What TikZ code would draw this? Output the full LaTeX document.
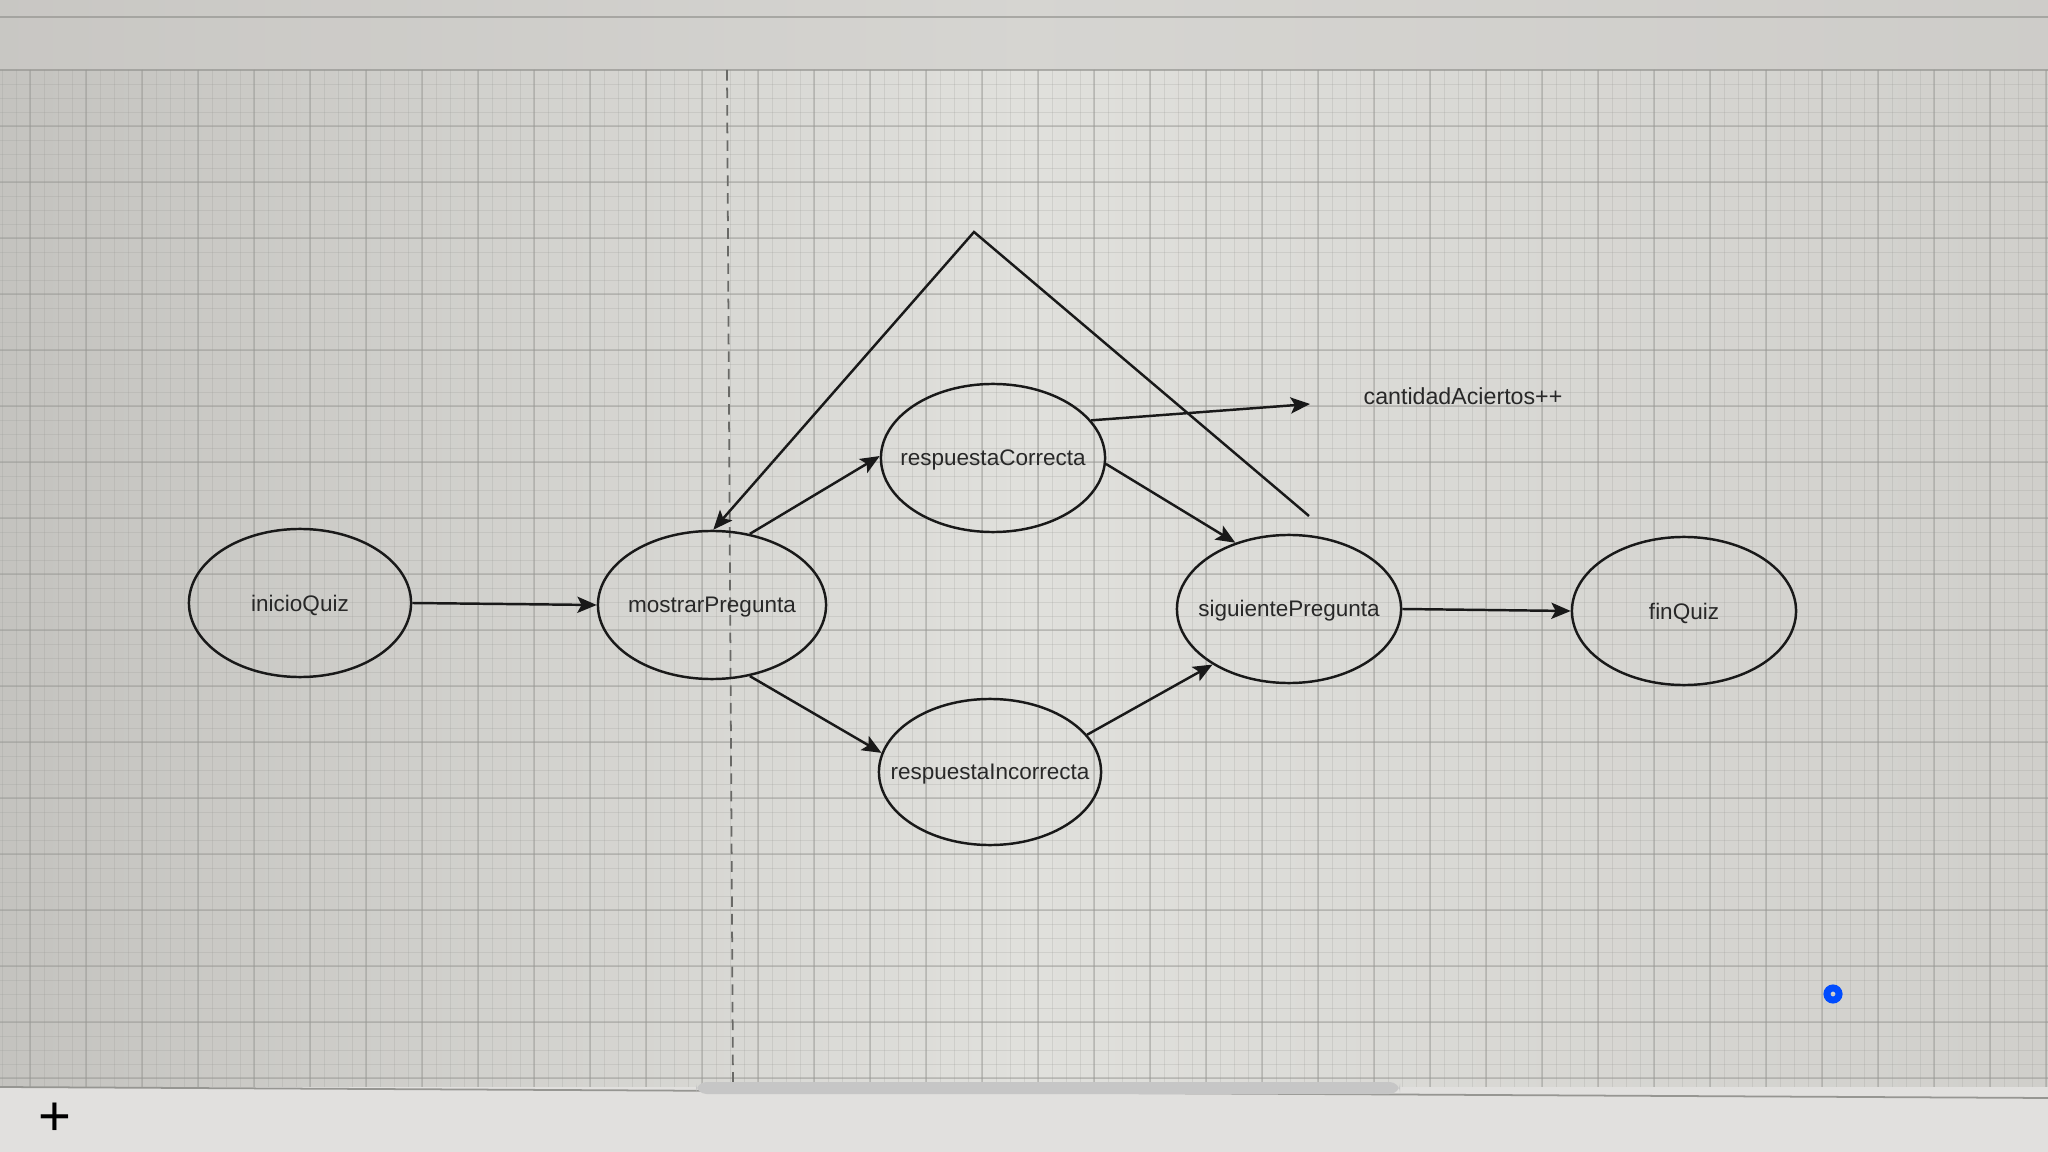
\documentclass[tikz,border=0pt]{standalone}
\usepackage{fontspec}
\setmainfont{Liberation Sans}
\usetikzlibrary{shapes.geometric,arrows.meta}
\definecolor{bgL}{RGB}{196,195,191}
\definecolor{bgM}{RGB}{224,224,220}
\definecolor{bgR}{RGB}{208,207,203}
\definecolor{barc}{RGB}{205,203,200}
\definecolor{gridc}{RGB}{150,150,146}
\definecolor{linec}{RGB}{25,25,25}
\definecolor{textc}{RGB}{40,40,40}
\begin{document}
\begin{tikzpicture}[x=0.01cm,y=-0.01cm,
  state/.style={ellipse,draw=linec,line width=0.7pt,inner sep=0pt},
  lbl/.style={text=textc,font=\fontsize{6.4}{7.6}\selectfont,yshift=-0.6pt},
  arr/.style={draw=linec,line width=0.7pt,-{Stealth[length=5.5pt,width=4.6pt,inset=1.2pt]}},
  gridminor/.style={draw=gridc,line width=0.15pt,opacity=0.22},
  gridmajor/.style={draw=gridc,line width=0.3pt,opacity=0.4}]
% background
\useasboundingbox (0,0) rectangle (2048,1152);
\shade[left color=bgL,right color=bgR,middle color=bgM] (0,0) rectangle (2048,1152);
% top bar
\fill[barc,opacity=0.5] (0,0) rectangle (2048,70);
\draw[gridc,line width=0.4pt,opacity=0.7] (0,17) -- (2048,17);
\draw[gridc,line width=0.4pt,opacity=0.7] (0,70) -- (2048,70);
% grid
\foreach \gx in {2,16,...,2048} \draw[gridminor] (\gx,70) -- (\gx,1087);
\foreach \gy in {84,98,...,1087} \draw[gridminor] (0,\gy) -- (2048,\gy);
\foreach \gx in {30,86,...,2048} \draw[gridmajor] (\gx,70) -- (\gx,1087);
\foreach \gy in {126,182,...,1087} \draw[gridmajor] (0,\gy) -- (2048,\gy);
% page break line
\draw[gridc!70!black,line width=0.5pt,dash pattern=on 3pt off 2pt] (727,70) -- (733,1087);
% bottom bar
\fill[barc!60!white] (0,1087) rectangle (2048,1152);
\draw[gridc,line width=0.5pt] (0,1087) -- (2048,1098);
\fill[gray!45,rounded corners=3pt] (696,1082) rectangle (1400,1094);
\node[text=black,font=\fontsize{16}{16}\selectfont] (plus) at (55,1119) {+};
% cursor indicator
\draw[blue!70!cyan,line width=2pt] (1833,994) circle (6);
% states
\node[state,minimum width=2.22cm,minimum height=1.48cm,label={[lbl]center:inicioQuiz}] (ini) at (300,603) {};
\node[state,minimum width=2.28cm,minimum height=1.48cm,label={[lbl]center:mostrarPregunta}] (mos) at (712,605) {};
\node[state,minimum width=2.24cm,minimum height=1.48cm,label={[lbl]center:respuestaCorrecta}] (cor) at (993,458) {};
\node[state,minimum width=2.22cm,minimum height=1.46cm,label={[lbl]center:respuestaIncorrecta}] (inc) at (990,772) {};
\node[state,minimum width=2.24cm,minimum height=1.48cm,label={[lbl]center:siguientePregunta}] (sig) at (1289,609) {};
\node[state,minimum width=2.24cm,minimum height=1.48cm,label={[lbl]center:finQuiz}] (fin) at (1684,611) {};
\node[lbl,font=\fontsize{6.6}{8}\selectfont] (cant) at (1463,394) {cantidadAciertos++};
% free ends
\coordinate (cantend) at (1310,404);
\coordinate (loopstart) at (1309,516);
\coordinate (apex) at (974,232);
% connectors
\draw[arr] (ini.east) -- (mos.west);
\draw[arr] (mos.62) -- (cor.179);
\draw[arr] (mos.-62) -- (inc.170);
\draw[arr] (cor.-3) -- (sig.129);
\draw[arr] (inc.21) -- (sig.-144);
\draw[arr] (sig.east) -- (fin.west);
\draw[arr] (cor.21) -- (cantend);
\draw[arr] (loopstart) -- (apex) -- (mos.89);
\end{tikzpicture}
\end{document}
